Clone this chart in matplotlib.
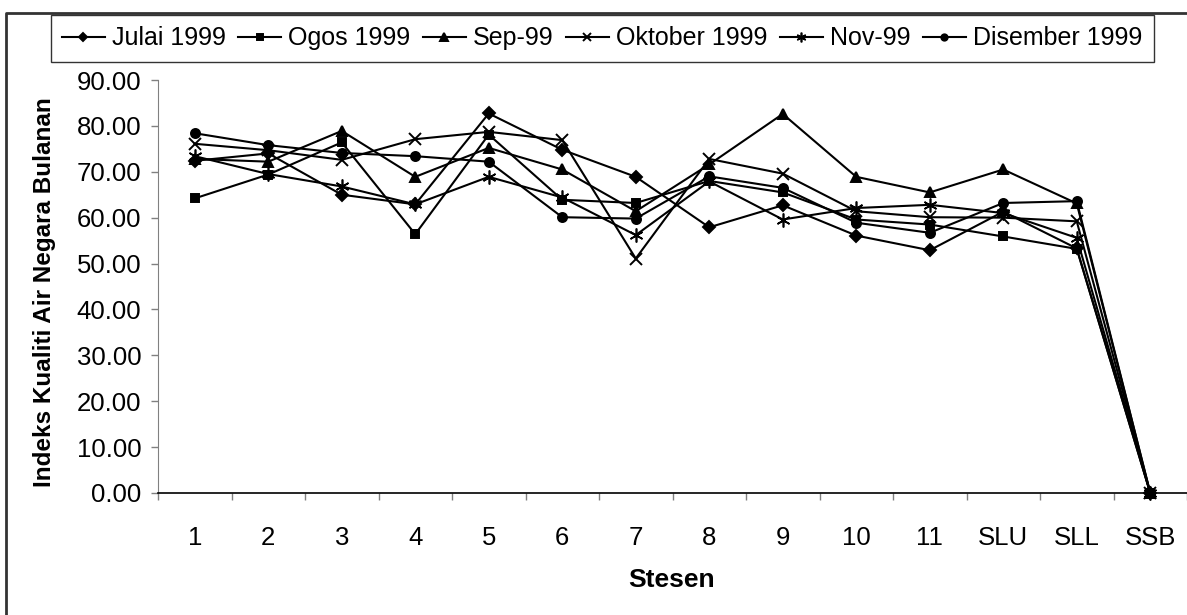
import numpy as np
import matplotlib
matplotlib.use("Agg")
from matplotlib import pyplot as plt
from matplotlib.lines import Line2D

plt.rcParams['font.family'] = ['Liberation Sans', 'DejaVu Sans']

stations = ['1', '2', '3', '4', '5', '6', '7', '8', '9', '10', '11', 'SLU', 'SLL', 'SSB']

julai = [72.4, 74.0, 65.0, 62.9, 82.7, 74.8, 68.9, 57.9, 62.7, 56.1, 52.9, 61.3, 53.3, 0.0]
ogos = [64.2, 69.4, 76.4, 56.4, 78.1, 63.9, 63.2, 68.0, 65.5, 59.6, 58.5, 55.9, 53.2, 0.0]
sep = [72.8, 72.2, 78.9, 68.9, 75.2, 70.5, 61.4, 71.6, 82.6, 68.9, 65.5, 70.5, 63.1, 0.0]
okt = [76.1, 74.7, 72.6, 77.1, 78.7, 76.9, 51.1, 72.8, 69.6, 61.4, 60.1, 60.0, 59.2, 0.0]
nov = [73.4, 69.5, 66.8, 62.9, 68.9, 64.4, 56.2, 67.9, 59.6, 62.1, 62.8, 61.0, 55.6, 0.0]
dis = [78.4, 75.8, 74.1, 73.4, 72.2, 60.1, 59.8, 69.0, 66.5, 58.9, 56.7, 63.2, 63.6, 0.0]

series = [
    ('Julai 1999', julai, 'D', 6.5, 1.4),
    ('Ogos 1999', ogos, 's', 6, 1.4),
    ('Sep-99', sep, '^', 7.5, 1.4),
    ('Oktober 1999', okt, 'x', 8, 1.4),
    ('Nov-99', nov, (6, 2, 0), 10, 1.2),
    ('Disember 1999', dis, 'o', 6.5, 1.4),
]

W, H = 1187, 615
fig = plt.figure(figsize=(W / 100, H / 100), dpi=100)
ax = fig.add_axes([158 / W, 1 - 493 / H, 1 - 158 / W, (493 - 80) / H])

x = np.arange(len(stations))
for name, vals, mk, ms, mw in series:
    ax.plot(x, vals, color='black', lw=1.5, marker=mk, ms=ms,
            mew=mw, mfc='black', mec='black', label=name, clip_on=False)

ax.set_xlim(-0.5, len(stations) - 0.5)
ax.set_ylim(0, 90)
ax.set_yticks(np.arange(0, 91, 10))
ax.set_yticklabels(['%.2f' % v for v in np.arange(0, 91, 10)])
ax.set_xticks(x)
ax.set_xticklabels(stations)
ax.set_xticks(np.arange(-0.5, len(stations), 1), minor=True)

ax.tick_params(axis='y', direction='out', length=5, width=1, color='#808080',
               labelsize=18.5, pad=7)
ax.tick_params(axis='x', which='major', length=0, labelsize=18.5, pad=24)
ax.tick_params(axis='x', which='minor', direction='out', length=5, width=1,
               color='#808080')

for s in ['top', 'right']:
    ax.spines[s].set_visible(False)
ax.spines['left'].set_color('#808080')
ax.spines['bottom'].set_color('black')
ax.spines['bottom'].set_linewidth(1.2)

fig.text(45 / W, 1 - 292 / H, 'Indeks Kualiti Air Negara Bulanan', rotation=90,
         ha='center', va='center', fontsize=17.5, fontweight='bold')
fig.text(672 / W, 1 - 580 / H, 'Stesen', ha='center', va='center',
         fontsize=19, fontweight='bold')

leg = fig.legend(loc='center', bbox_to_anchor=(0.5073, 1 - 38.3 / H), ncol=6,
                 fontsize=18, frameon=True, fancybox=False, edgecolor='black',
                 handlelength=1.7, handletextpad=0.3, columnspacing=0.5,
                 borderpad=0.45, borderaxespad=0, markerscale=0.7)
leg.get_frame().set_linewidth(1.0)

# outer chart border
fig.add_artist(Line2D([6 / W, 6 / W, 1.0], [0.0, 1 - 12.5 / H, 1 - 12.5 / H],
                      transform=fig.transFigure, color='#333333', lw=2))

fig.savefig('out.png', dpi=100)
